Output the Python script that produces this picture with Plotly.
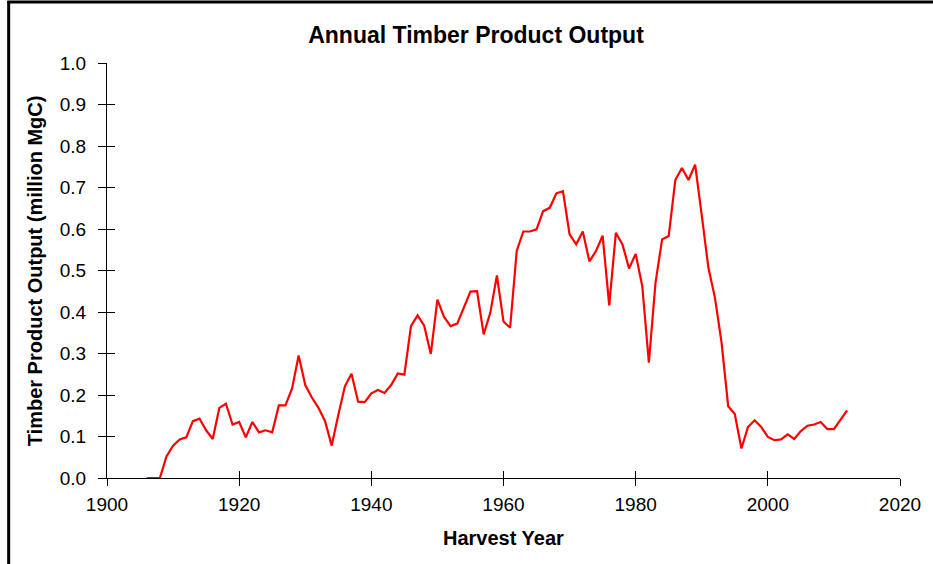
import plotly.graph_objects as go

years = list(range(1906, 2013))
output = [
    0.0, 0.0, 0.0, 0.052, 0.078, 0.093, 0.098, 0.137, 0.143, 0.115,
    0.094, 0.169, 0.179, 0.129, 0.135, 0.098, 0.135, 0.110, 0.115, 0.110,
    0.175, 0.175, 0.215, 0.295, 0.224, 0.194, 0.169, 0.137, 0.078, 0.152,
    0.221, 0.251, 0.184, 0.183, 0.204, 0.212, 0.205, 0.224, 0.252, 0.249,
    0.366, 0.392, 0.367, 0.299, 0.430, 0.388, 0.366, 0.372, 0.410, 0.449,
    0.450, 0.346, 0.398, 0.488, 0.377, 0.362, 0.547, 0.594, 0.594, 0.599,
    0.643, 0.651, 0.686, 0.691, 0.587, 0.563, 0.594, 0.522, 0.547, 0.584,
    0.416, 0.591, 0.563, 0.505, 0.540, 0.462, 0.278, 0.470, 0.575, 0.583,
    0.718, 0.747, 0.718, 0.755, 0.633, 0.507, 0.434, 0.326, 0.173, 0.154,
    0.071, 0.123, 0.139, 0.123, 0.099, 0.091, 0.093, 0.105, 0.094, 0.113,
    0.126, 0.129, 0.135, 0.118, 0.118, 0.139, 0.163,
]
x_ticks = [1900, 1920, 1940, 1960, 1980, 2000, 2020]
y_ticks = [0.0, 0.1, 0.2, 0.3, 0.4, 0.5, 0.6, 0.7, 0.8, 0.9, 1.0]
y_tick_labels = [f"{v:.1f}" for v in y_ticks]

FONT = "Liberation Sans, Arial, sans-serif"

fig = go.Figure()
fig.add_trace(go.Scatter(x=years, y=output, mode="lines",
                         line=dict(color="#FF0000", width=2.2),
                         showlegend=False, hoverinfo="x+y"))
# empty trace to instantiate overlay axes (inside ticks)
fig.add_trace(go.Scatter(x=[], y=[], xaxis="x2", yaxis="y2", showlegend=False))

axis_common = dict(showgrid=False, zeroline=False, showline=True,
                   linecolor="black", linewidth=1, tickcolor="black",
                   tickwidth=1)

fig.update_layout(
    width=933, height=564,
    margin=dict(l=107, r=30, t=63, b=86),
    paper_bgcolor="white", plot_bgcolor="white",
    font=dict(family=FONT, color="black", size=19),
    title=dict(text="<b>Annual Timber Product Output</b>",
               x=476 / 933, xref="container", xanchor="center",
               y=1 - 35 / 564, yref="container", yanchor="middle",
               font=dict(family=FONT, size=23, color="black")),
    xaxis=dict(range=[1900, 2020], tickmode="array", tickvals=x_ticks,
               ticks="outside", ticklen=7, ticklabelstandoff=2,
               tickfont=dict(size=19), **axis_common),
    yaxis=dict(range=[0, 1], tickmode="array", tickvals=y_ticks,
               ticktext=y_tick_labels, ticks="outside", ticklen=8,
               ticklabelstandoff=8, tickfont=dict(size=19), **axis_common),
    xaxis2=dict(range=[1900, 2020], overlaying="x", anchor="y", side="bottom",
                tickmode="array", tickvals=x_ticks, ticks="inside", ticklen=7,
                showticklabels=False, **axis_common),
    yaxis2=dict(range=[0, 1], overlaying="y", anchor="x", side="left",
                tickmode="array", tickvals=y_ticks, ticks="inside", ticklen=8,
                showticklabels=False, **axis_common),
    annotations=[
        dict(text="<b>Harvest Year</b>", xref="paper", yref="paper",
             x=0.5, y=(478 - 538) / 415, xanchor="center", yanchor="middle",
             showarrow=False, font=dict(family=FONT, size=20, color="black")),
        dict(text="<b>Timber Product Output (million MgC)</b>", xref="paper",
             yref="paper", x=(34.5 - 107) / 796, y=0.5, xanchor="center",
             yanchor="middle", textangle=-90, showarrow=False,
             font=dict(family=FONT, size=20, color="black")),
    ],
    shapes=[
        dict(type="line", xref="paper", yref="paper",
             x0=(8.3 - 107) / 796, x1=(8.3 - 107) / 796,
             y0=(478 - 570) / 415, y1=(478 - 1) / 415,
             line=dict(color="black", width=3)),
        dict(type="line", xref="paper", yref="paper",
             x0=(7 - 107) / 796, x1=(940 - 107) / 796,
             y0=(478 - 2) / 415, y1=(478 - 2) / 415,
             line=dict(color="black", width=3)),
    ],
)

fig.write_html("out.html",
               config={"displayModeBar": False},
               post_script="document.body.style.margin='0px';"
                           "document.body.style.overflow='hidden';")
